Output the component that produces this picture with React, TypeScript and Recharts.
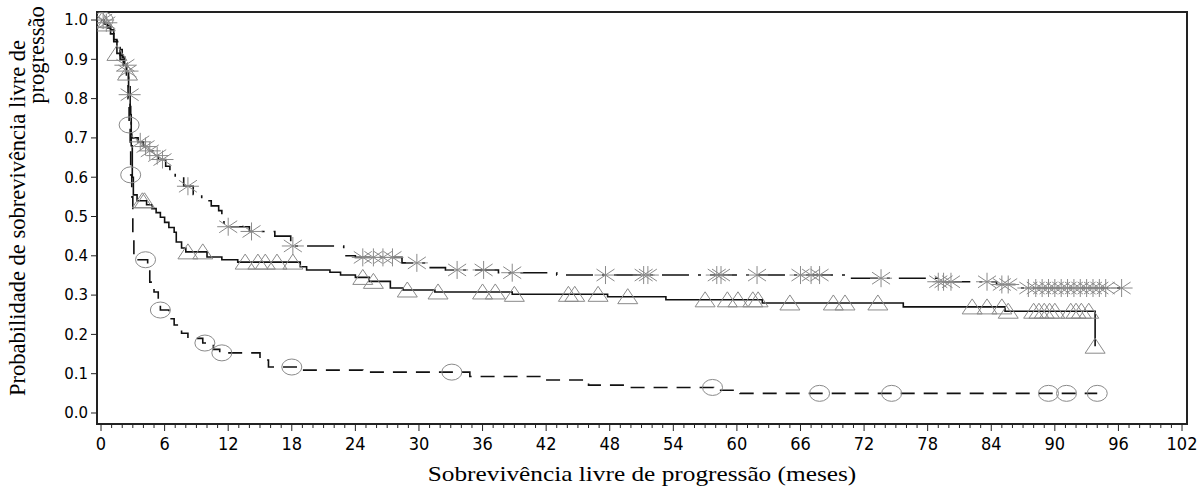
import type { FC } from "react";
import { ComposedChart, Line, Scatter, XAxis, YAxis, ReferenceArea } from "recharts";

type Step = [number, number];

// Kaplan-Meier estimates: [meses, probabilidade]
const curvaAsterisco: Step[] = [
  [0, 1.0], [0.3, 0.993], [0.6, 0.985], [0.9, 0.975], [1.2, 0.962], [1.5, 0.945],
  [1.8, 0.925], [2.0, 0.905], [2.2, 0.885], [2.4, 0.87], [2.6, 0.84], [2.7, 0.81],
  [2.75, 0.78], [2.8, 0.75], [2.85, 0.72], [2.9, 0.7], [3.5, 0.69], [4.0, 0.678],
  [4.4, 0.667], [4.9, 0.655], [5.4, 0.645], [6.1, 0.628], [6.5, 0.612], [7.0, 0.6],
  [7.8, 0.577], [8.7, 0.556], [9.5, 0.54], [10.4, 0.527], [11.1, 0.515], [11.4, 0.49],
  [11.6, 0.474], [14.0, 0.462], [16.4, 0.45], [17.9, 0.425], [22.9, 0.4], [24.0, 0.396],
  [28.4, 0.382], [30.8, 0.37], [32.5, 0.364], [37.5, 0.357], [43.0, 0.351], [70.5, 0.343],
  [79.0, 0.334], [84.5, 0.327], [86.5, 0.318], [96.3, 0.318],
];

const curvaTriangulo: Step[] = [
  [0, 1.0], [0.3, 0.99], [0.6, 0.98], [0.9, 0.965], [1.2, 0.945], [1.5, 0.915],
  [1.8, 0.9], [2.1, 0.885], [2.4, 0.865], [2.6, 0.83], [2.75, 0.76], [2.85, 0.68],
  [2.95, 0.6], [3.05, 0.555], [3.4, 0.54], [4.3, 0.53], [4.8, 0.52], [5.2, 0.51],
  [5.6, 0.498], [6.0, 0.485], [6.4, 0.472], [6.9, 0.46], [7.1, 0.435], [7.6, 0.42],
  [8.0, 0.41], [10.0, 0.397], [11.4, 0.39], [12.9, 0.384], [18.8, 0.372], [19.4, 0.364],
  [21.6, 0.358], [22.6, 0.351], [24.0, 0.345], [25.3, 0.335], [27.3, 0.318], [28.5, 0.313],
  [31.5, 0.308], [38.8, 0.302], [47.8, 0.296], [53.3, 0.288], [62.4, 0.28], [75.7, 0.27],
  [85.3, 0.259], [93.8, 0.17],
];

const curvaCirculo: Step[] = [
  [0, 1.0], [0.3, 0.99], [0.6, 0.98], [0.9, 0.965], [1.2, 0.95], [1.5, 0.93],
  [1.8, 0.91], [2.1, 0.89], [2.4, 0.86], [2.55, 0.8], [2.65, 0.733], [2.75, 0.67],
  [2.8, 0.606], [2.9, 0.55], [3.0, 0.45], [3.1, 0.4], [3.5, 0.39], [4.4, 0.364],
  [4.6, 0.333], [5.0, 0.308], [5.4, 0.285], [5.6, 0.262], [6.4, 0.24], [6.9, 0.224],
  [7.6, 0.203], [8.2, 0.19], [9.6, 0.178], [10.6, 0.162], [11.2, 0.153], [15.0, 0.135],
  [15.8, 0.117], [18.7, 0.109], [24.7, 0.104], [34.8, 0.093], [41.5, 0.084], [46.0, 0.071],
  [49.8, 0.065], [57.8, 0.058], [60.3, 0.05], [94.0, 0.05],
];

// censoring times (meses)
const censuraAsterisco = [
  0.2, 0.5, 2.3, 2.5, 2.7, 3.7, 4.2, 4.6, 5.3, 5.8, 8.2, 12.0, 14.2, 18.1, 24.7, 25.7,
  26.6, 27.5, 29.8, 33.6, 36.1, 38.8, 47.6, 51.2, 51.6, 58.1, 58.5, 61.9, 66.0, 67.0,
  67.8, 73.6, 79.0, 79.5, 80.2, 83.6, 85.0, 85.6, 87.5, 88.2, 88.8, 89.4, 90.0, 90.6,
  91.2, 91.8, 92.4, 93.0, 93.6, 94.2, 94.8, 96.3,
];
const censuraTriangulo = [
  0.1, 0.4, 1.5, 2.5, 3.9, 4.1, 8.2, 9.6, 13.6, 14.8, 15.5, 16.6, 18.1, 24.7, 25.7, 28.9,
  31.8, 36.0, 37.2, 39.0, 44.1, 44.7, 46.9, 49.7, 57.0, 59.1, 60.1, 61.5, 62.0, 65.0,
  69.1, 70.2, 73.3, 82.2, 83.6, 85.0, 85.6, 88.0, 88.5, 89.0, 89.5, 90.0, 91.5, 92.0,
  92.5, 93.2, 93.8,
];
const censuraCirculo = [0.2, 2.65, 2.8, 4.2, 5.6, 9.8, 11.4, 18.0, 33.1, 57.7, 67.8, 74.6, 89.4, 91.1, 94.0];

const xMajorTicks = [0, 6, 12, 18, 24, 30, 36, 42, 48, 54, 60, 66, 72, 78, 84, 90, 96, 102];
const yTicks = [0, 0.1, 0.2, 0.3, 0.4, 0.5, 0.6, 0.7, 0.8, 0.9, 1.0];

const xAllTicks = Array.from({ length: 103 }, (_, i) => i);

const toPoints = (s: Step[]) => s.map(([x, y]) => ({ x, y }));
const censorPoints = (times: number[], curve: Step[]) =>
  times.map((t) => {
    let y = curve[0][1];
    for (const [x, v] of curve) if (x <= t) y = v;
    return { x: t, y };
  });

const markerColor = "#8a8a8a";
const axisColor = "#222";

const Asterisk = ({ cx, cy }: any) => (
  <g stroke={markerColor} strokeWidth={1} fill="none">
    <line x1={cx - 11} x2={cx + 11} y1={cy} y2={cy} />
    <line x1={cx} x2={cx} y1={cy - 9} y2={cy + 9} />
    <line x1={cx - 9} x2={cx + 9} y1={cy - 6} y2={cy + 6} />
    <line x1={cx - 9} x2={cx + 9} y1={cy + 6} y2={cy - 6} />
  </g>
);

const Triangle = ({ cx, cy }: any) => (
  <polygon
    points={`${cx},${cy - 8} ${cx - 10},${cy + 7} ${cx + 10},${cy + 7}`}
    stroke={markerColor}
    strokeWidth={1}
    fill="none"
  />
);

const Circle = ({ cx, cy }: any) => (
  <ellipse cx={cx} cy={cy} rx={10} ry={8} stroke={markerColor} strokeWidth={1} fill="none" />
);

const XTick = ({ x, y, payload }: any) => {
  const major = xMajorTicks.includes(payload.value);
  return (
    <g>
      <line x1={x} x2={x} y1={y} y2={y + (major ? 7 : 4)} stroke={axisColor} strokeWidth={1} />
      {major && (
        <text
          x={x}
          y={y + 26}
          textAnchor="middle"
          fontSize={18}
          fontFamily="'Liberation Sans Narrow', 'DejaVu Sans Condensed', sans-serif"
          fill="#000"
        >
          {payload.value}
        </text>
      )}
    </g>
  );
};

const serif = "'Liberation Serif', 'Times New Roman', serif";

const App: FC = () => {
  return (
    <div style={{ position: "absolute", left: 0, top: 0, width: 1203, height: 488, background: "#fff" }}>
      <ComposedChart width={1203} height={488} margin={{ top: 12, right: 16, bottom: 0, left: 0 }}>
        <XAxis
          type="number"
          dataKey="x"
          domain={[-0.38, 102.47]}
          allowDataOverflow
          ticks={xAllTicks}
          interval={0}
          tick={<XTick />}
          tickLine={false}
          tickSize={0}
          tickMargin={0}
          axisLine={{ stroke: axisColor, strokeWidth: 2 }}
          height={64}
        />
        <YAxis
          type="number"
          dataKey="y"
          domain={[-0.028, 1.0204]}
          allowDataOverflow
          ticks={yTicks}
          interval={0}
          width={97}
          tickFormatter={(v: number) => v.toFixed(1)}
          tick={{ fill: "#000", fontSize: 15, fontFamily: "'DejaVu Sans', sans-serif" }}
          tickLine={{ stroke: axisColor }}
          tickSize={6}
          tickMargin={3}
          axisLine={{ stroke: axisColor, strokeWidth: 2 }}
        />
        <ReferenceArea
          x1={-0.38}
          x2={102.47}
          y1={-0.028}
          y2={1.0204}
          fill="none"
          stroke={axisColor}
          strokeWidth={2}
          ifOverflow="visible"
        />
        <Scatter data={censorPoints(censuraAsterisco, curvaAsterisco)} dataKey="y" shape={Asterisk} isAnimationActive={false} />
        <Scatter data={censorPoints(censuraTriangulo, curvaTriangulo)} dataKey="y" shape={Triangle} isAnimationActive={false} />
        <Scatter data={censorPoints(censuraCirculo, curvaCirculo)} dataKey="y" shape={Circle} isAnimationActive={false} />
        <Line
          data={toPoints(curvaAsterisco)}
          dataKey="y"
          type="stepAfter"
          stroke="#111"
          strokeWidth={1.6}
          strokeDasharray="27 9 3 9"
          dot={false}
          activeDot={false}
          isAnimationActive={false}
        />
        <Line
          data={toPoints(curvaTriangulo)}
          dataKey="y"
          type="stepAfter"
          stroke="#111"
          strokeWidth={1.6}
          dot={false}
          activeDot={false}
          isAnimationActive={false}
        />
        <Line
          data={toPoints(curvaCirculo)}
          dataKey="y"
          type="stepAfter"
          stroke="#111"
          strokeWidth={1.6}
          strokeDasharray="14 9"
          dot={false}
          activeDot={false}
          isAnimationActive={false}
        />
      </ComposedChart>

      <div
        style={{
          position: "absolute",
          left: 97,
          width: 1090,
          top: 462,
          textAlign: "center",
          fontFamily: serif,
          fontSize: 22,
          lineHeight: "24px",
          color: "#000",
          transform: "scaleX(1.15)",
          whiteSpace: "nowrap",
        }}
      >
        Sobrevivência livre de progressão (meses)
      </div>
      <div
        style={{
          position: "absolute",
          left: 18 - 220,
          top: 218 - 12,
          width: 440,
          height: 24,
          lineHeight: "24px",
          textAlign: "center",
          fontFamily: serif,
          fontSize: 22.5,
          color: "#000",
          transform: "rotate(-90deg)",
          whiteSpace: "nowrap",
        }}
      >
        Probabilidade de sobrevivência livre de
      </div>
      <div
        style={{
          position: "absolute",
          left: 37 - 60,
          top: 55 - 12,
          width: 120,
          height: 24,
          lineHeight: "24px",
          textAlign: "center",
          fontFamily: serif,
          fontSize: 22.5,
          color: "#000",
          transform: "rotate(-90deg)",
          whiteSpace: "nowrap",
        }}
      >
        progressão
      </div>
    </div>
  );
};

export default App;
